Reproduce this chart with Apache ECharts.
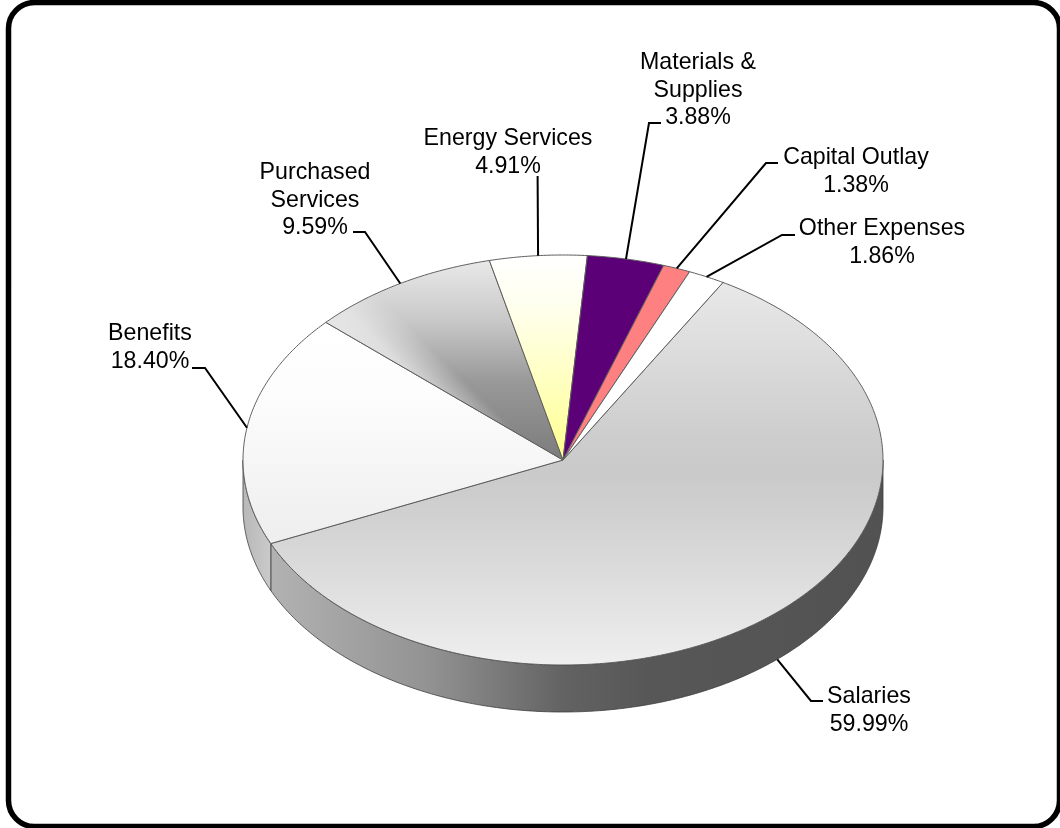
<!DOCTYPE html>
<html>
<head>
<meta charset="utf-8">
<style>
  html, body { margin: 0; padding: 0; background: #fff; }
  #chart { width: 1060px; height: 828px; }
</style>
<script src="https://cdn.jsdelivr.net/npm/echarts@6/dist/echarts.min.js"></script>
</head>
<body>
<div id="chart"></div>
<script>
// Budget shares, clockwise from the Salaries slice
const categories = ['Salaries', 'Benefits', 'Purchased\nServices', 'Energy Services', 'Materials &\nSupplies', 'Capital Outlay', 'Other Expenses'];
const shares = [59.99, 18.40, 9.59, 4.91, 3.88, 1.38, 1.86];

// Projection of the disc
const CX = 563, CY = 460, RX = 320, RY = 205, DEPTH = 47;
const START_ANGLE = 30;

function linear(x, y, x2, y2, stops) {
  return {
    type: 'linear', x, y, x2, y2, global: true,
    colorStops: stops.map(s => ({ offset: s[0], color: s[1] }))
  };
}

// Top-face fills, one per slice
const faceFills = [
  linear(0, 285, 0, 665, [[0, '#e8e8e8'], [0.25, '#d7d7d7'], [0.42, '#cccccc'], [0.5, '#cacaca'], [0.6, '#d0d0d0'], [0.8, '#dfdfdf'], [1, '#efefef']]),
  linear(0, 323, 0, 543, [[0, '#ffffff'], [0.3, '#fdfdfd'], [1, '#eeeeee']]),
  linear(0, 262, 0, 460, [[0, '#e8e8e8'], [0.3, '#c8c8c8'], [0.6, '#999999'], [1, '#7c7c7c']]),
  linear(0, 255, 0, 460, [[0, '#ffffff'], [0.25, '#ffffee'], [1, '#ffff90']]),
  '#5c0078',
  '#ff8080',
  '#ffffff'
];
// Diagonal sheen over the lower-left part of Purchased Services
const faceSheen = {
  2: linear(400, 420, 480, 340, [[0, 'rgba(234,234,234,1)'], [0.35, 'rgba(232,232,232,0.8)'], [0.65, 'rgba(232,232,232,0)'], [1, 'rgba(232,232,232,0)']])
};
// Rim wall fills
const wallFills = {
  0: linear(271, 0, 883, 0, [[0, '#b2b2b2'], [0.26, '#929292'], [0.48, '#626262'], [0.62, '#575757'], [1, '#525252']]),
  1: linear(243, 0, 271, 0, [[0, '#b8b8b8'], [1, '#cacaca']])
};

// Leader line bend and end, and the anchor of each label
const leaderBends = [
  [[811, 701], [823, 701]],
  [[205, 368], [192, 368]],
  [[365, 232], [353, 232]],
  [[537.6, 176]],
  [[649, 123], [661, 123]],
  [[766, 163], [778, 163]],
  [[782, 235], [795, 235]]
];
const labelAnchors = [[869, 683], [150, 320], [315, 159], [508, 125], [698, 49], [856, 144], [882, 215]];

const total = shares.reduce((a, b) => a + b, 0);
const rows = [];
shares.reduce((acc, v) => { rows.push([v, acc]); return acc + v; }, 0);

function rim(deg, drop) {
  const a = deg * Math.PI / 180;
  return [CX + RX * Math.sin(a), CY - RY * Math.cos(a) + (drop || 0)];
}
function arcPoints(from, to, drop) {
  const pts = [];
  const n = Math.max(2, Math.ceil(Math.abs(to - from) / 0.5));
  for (let i = 0; i <= n; i++) pts.push(rim(from + (to - from) * i / n, drop));
  return pts;
}

function renderSlice(params, api) {
  const i = params.dataIndex;
  const value = api.value(0);
  const from = START_ANGLE + api.value(1) / total * 360;
  const to = from + value / total * 360;
  const mid = (from + to) / 2;
  const children = [];

  // Visible part of the rim lies between 90 and 270 degrees
  const wallFrom = Math.max(from, 90), wallTo = Math.min(to, 270);
  if (wallTo > wallFrom) {
    children.push({
      type: 'polygon', silent: true,
      shape: { points: arcPoints(wallFrom, wallTo, 0).concat(arcPoints(wallTo, wallFrom, DEPTH)) },
      style: { fill: wallFills[i], stroke: '#3c3c3c', lineWidth: 0.8 }
    });
  }

  const facePoints = [[CX, CY]].concat(arcPoints(from, to, 0));
  children.push({
    type: 'polygon', silent: true,
    shape: { points: facePoints },
    style: { fill: faceFills[i] }
  });
  if (faceSheen[i]) {
    children.push({
      type: 'polygon', silent: true,
      shape: { points: facePoints },
      style: { fill: faceSheen[i] }
    });
  }
  children.push({
    type: 'polygon', silent: true,
    shape: { points: facePoints },
    style: { fill: 'none', stroke: '#5e5e5e', lineWidth: 1 }
  });

  // Leaders start on the rim at the slice's mid-angle
  const onFront = mid > 90 && mid < 270;
  children.push({
    type: 'polyline', silent: true,
    shape: { points: [rim(mid, onFront ? DEPTH : 0)].concat(leaderBends[i]) },
    style: { fill: 'none', stroke: '#000', lineWidth: 2 }
  });

  children.push({
    type: 'text', silent: true,
    style: {
      x: labelAnchors[i][0], y: labelAnchors[i][1],
      text: categories[i] + '\n' + value.toFixed(2) + '%',
      textAlign: 'center', textVerticalAlign: 'top',
      font: '23.2px "Liberation Sans", Arial, sans-serif',
      lineHeight: 27.5, fill: '#000'
    }
  });

  return { type: 'group', children };
}

const chart = echarts.init(document.getElementById('chart'), null, { renderer: 'canvas' });
chart.setOption({
  animation: false,
  backgroundColor: '#ffffff',
  graphic: [{
    type: 'rect', silent: true, z: 10,
    shape: { x: 8.5, y: 2.5, width: 1051, height: 824, r: 26 },
    style: { fill: 'none', stroke: '#000', lineWidth: 5.5 }
  }],
  series: [{
    type: 'custom',
    coordinateSystem: 'none',
    silent: true,
    renderItem: renderSlice,
    data: rows
  }]
});
</script>
</body>
</html>
